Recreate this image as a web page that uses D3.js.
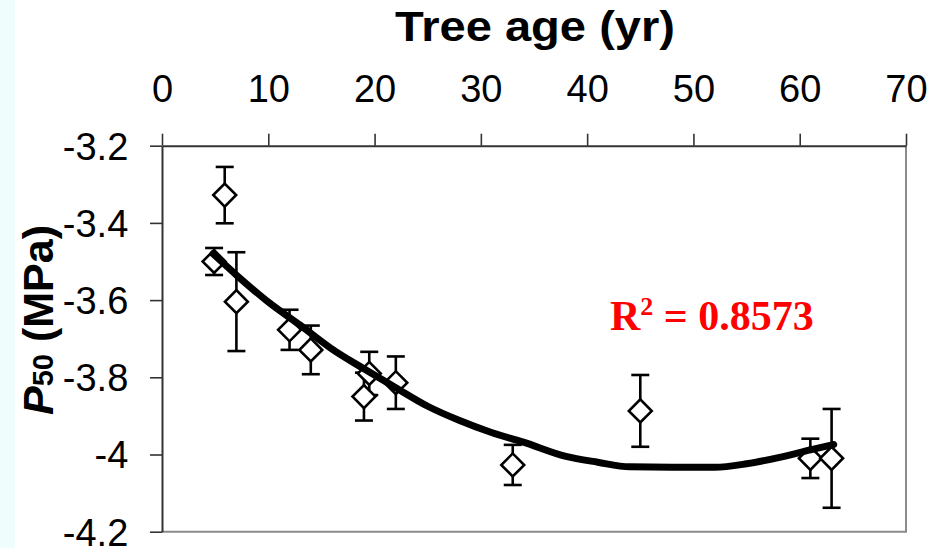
<!DOCTYPE html>
<html>
<head>
<meta charset="utf-8">
<script src="https://cdn.jsdelivr.net/npm/d3@7"></script>
<style>
  html, body { margin: 0; padding: 0; background: #ffffff; }
  svg { display: block; }
</style>
</head>
<body>
<svg id="chart" width="931" height="548"></svg>
<script>
// Measured P50 (mean ± error) by tree age
const ages   = [4.9, 5.9, 7, 12, 14, 19, 19.5, 22, 33, 45, 61, 63];
const p50    = [-3.50, -3.328, -3.604, -3.677, -3.729, -3.850, -3.790, -3.814, -4.027, -3.887, -4.010, -4.010];
const p50Err = [0.035, 0.073, 0.128, 0.052, 0.063, 0.062, 0.056, 0.068, 0.052, 0.093, 0.051, 0.128];

// Trend line through the measurements
const trendAge = [4.8, 7, 10, 13, 16, 19, 22, 25, 28, 31, 34, 38, 41, 44, 48, 52, 55, 58, 61, 63.2];
const trendP50 = [-3.48, -3.535, -3.605, -3.665, -3.727, -3.778, -3.827, -3.875, -3.912, -3.943, -3.968, -4.005, -4.02, -4.032, -4.033, -4.033, -4.024, -4.008, -3.988, -3.974];

const xTicks = [0, 10, 20, 30, 40, 50, 60, 70];
const yTicks = [-3.2, -3.4, -3.6, -3.8, -4.0, -4.2];
const yTickLabels = ["-3.2", "-3.4", "-3.6", "-3.8", "-4", "-4.2"];

const r2Label = "0.8573";

const svg = d3.select("#chart");
const plotLeft = 162, plotRight = 906, plotTop = 145.7, plotBottom = 531.7;

// pale side strip
svg.append("rect").attr("x", 0).attr("y", 0).attr("width", 15).attr("height", 548).attr("fill", "#effdfd");

const x = d3.scaleLinear().domain([0, 70]).range([plotLeft, plotRight]);
const y = d3.scaleLinear().domain([-3.2, -4.2]).range([plotTop, plotBottom]);

// plot frame (right and bottom edges)
svg.append("path")
  .attr("d", `M${plotRight},${plotTop} V${plotBottom} H${plotLeft}`)
  .attr("fill", "none").attr("stroke", "#8c8c8c").attr("stroke-width", 2);

const fontSans = "'Liberation Sans', Arial, sans-serif";

// top x axis
const xAxis = svg.append("g")
  .attr("transform", `translate(0,${plotTop})`)
  .call(d3.axisTop(x).tickValues(xTicks).tickSize(12).tickSizeOuter(0).tickPadding(31.7).tickFormat(d3.format("d")));

// left y axis
const yAxis = svg.append("g")
  .attr("transform", `translate(${plotLeft},0)`)
  .call(d3.axisLeft(y).tickValues(yTicks).tickSize(12).tickSizeOuter(0).tickPadding(21.7)
        .tickFormat((d, i) => yTickLabels[i]));

[xAxis, yAxis].forEach(g => {
  g.select(".domain").attr("stroke", "#333").attr("stroke-width", 2);
  g.selectAll(".tick line").attr("stroke", "#333").attr("stroke-width", 1.6);
  g.selectAll(".tick text").attr("fill", "#000").style("font-family", fontSans).style("font-size", "38px");
});
yAxis.selectAll(".tick text").attr("dy", "0.35em");

// axis titles
svg.append("text")
  .attr("x", 535).attr("y", 41)
  .attr("text-anchor", "middle")
  .attr("textLength", 280).attr("lengthAdjust", "spacingAndGlyphs")
  .style("font-family", fontSans).style("font-size", "42px").style("font-weight", "bold")
  .text("Tree age (yr)");

const yTitle = svg.append("text")
  .attr("transform", "translate(53,320) rotate(-90)")
  .attr("text-anchor", "middle")
  .style("font-family", fontSans).style("font-size", "43px").style("font-weight", "bold");
yTitle.append("tspan").style("font-style", "italic").text("P");
yTitle.append("tspan").style("font-size", "29px").text("50");
yTitle.append("tspan").text(" (MPa)");

const pts = ages.map((a, i) => ({ a, v: p50[i], e: p50Err[i] }));

// error bars
const eb = svg.append("g").attr("stroke", "#000").attr("stroke-width", 2.6).attr("fill", "none");
pts.forEach(d => {
  const cx = x(d.a), y1 = y(d.v + d.e), y2 = y(d.v - d.e);
  eb.append("line").attr("x1", cx).attr("x2", cx).attr("y1", y1).attr("y2", y2);
  eb.append("line").attr("x1", cx - 9).attr("x2", cx + 9).attr("y1", y1).attr("y2", y1);
  eb.append("line").attr("x1", cx - 9).attr("x2", cx + 9).attr("y1", y2).attr("y2", y2);
});

// diamond markers
const diamond = d3.symbol().type(d3.symbolSquare).size(262);
svg.append("g").selectAll("path").data(pts).join("path")
  .attr("d", diamond)
  .attr("transform", d => `translate(${x(d.a)},${y(d.v)}) rotate(45)`)
  .attr("fill", "#fff").attr("stroke", "#000").attr("stroke-width", 2.6);

// trend line
const line = d3.line().x((d, i) => x(trendAge[i])).y(d => y(d)).curve(d3.curveMonotoneX);
svg.append("path")
  .attr("d", line(trendP50))
  .attr("fill", "none").attr("stroke", "#000").attr("stroke-width", 7).attr("stroke-linecap", "round");

// fit statistic
const r2 = svg.append("text")
  .attr("x", 610).attr("y", 330)
  .attr("fill", "#ff0000")
  .style("font-family", "'Liberation Serif', 'Times New Roman', serif")
  .style("font-size", "42px").style("font-weight", "bold");
r2.append("tspan").text("R");
r2.append("tspan").attr("dy", -15).style("font-size", "26px").text("2");
r2.append("tspan").attr("dy", 15).text(" = " + r2Label);
</script>
</body>
</html>
